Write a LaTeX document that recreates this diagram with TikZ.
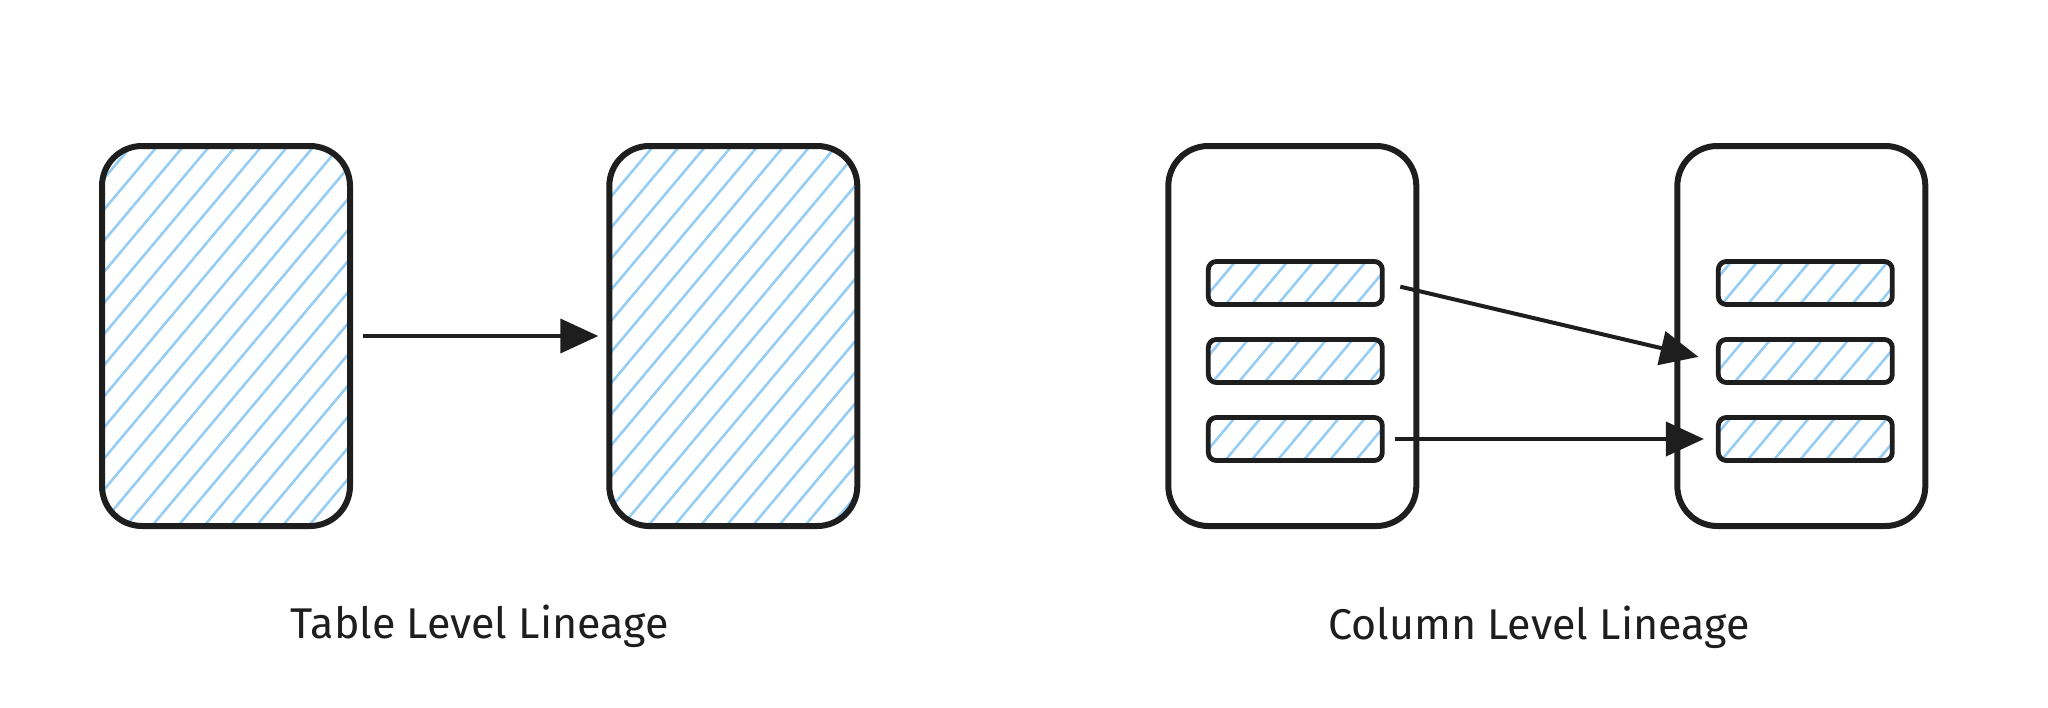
\documentclass[tikz,border=0pt]{standalone}
\usepackage{fontspec}
\setmainfont{Fira Sans}
\usetikzlibrary{arrows.meta, positioning, patterns.meta}
\definecolor{hatchblue}{RGB}{150,205,245}
\definecolor{ink}{RGB}{30,30,30}

\begin{document}
\begin{tikzpicture}[
      x=0.5pt,
      y=-0.5pt,
      node distance=127.5pt,
      tbl/.style={
          rectangle,
          draw=ink,
          rounded corners=20pt,
          line width=3pt,
          minimum width=124pt,
          minimum height=190pt
        },
      hatched/.style={
          pattern={Lines[angle=50, distance=10pt, line width=1.3pt]},
          pattern color=hatchblue
        },
      col/.style={
          rectangle,
          draw=ink,
          rounded corners=4pt,
          line width=2.4pt,
          minimum width=87pt,
          minimum height=21.5pt,
          hatched
        },
      arrow/.style={
          -{Triangle[length=19pt, width=17pt]},
          line width=2pt,
          draw=ink
        },
      caption/.style={
          font=\fontsize{21.5}{25}\selectfont,
          text=ink
        }
    ]
    \useasboundingbox (0,0) rectangle (2048,707);

    % Tables
    \node[tbl, hatched] (srcT) at (226,336) {};
    \node[tbl, hatched, right=of srcT] (dstT) {};
    \node[tbl, right=152.5pt of dstT] (srcC) {};
    \node[tbl, right=of srcC] (dstC) {};

    % Columns
    \foreach \i/\dy in {1/26.5, 2/-12.5, 3/-51.5} {
        \node[col] (srcC\i) at ([xshift=1.5pt, yshift=\dy pt]srcC.center) {};
        \node[col] (dstC\i) at ([xshift=2pt, yshift=\dy pt]dstC.center) {};
      }

    % Arrows
    \draw[arrow, shorten <=6pt, shorten >=4pt] (srcT) -- (dstT);
    \draw[arrow, shorten <=8pt, shorten >=9pt] (srcC1.east) -- (dstC2.west);
    \draw[arrow, shorten <=5pt, shorten >=6pt] (srcC3.east) -- (dstC3.west);

    % Captions
    \path (srcT.south) -- (dstT.south) node[caption, midway, yshift=-49pt] (capT) {Table Level Lineage};
    \path (srcC.south) -- (dstC.south) node[caption, midway, xshift=-4pt, yshift=-49pt] (capC) {Column Level Lineage};

  \end{tikzpicture}
\end{document}
